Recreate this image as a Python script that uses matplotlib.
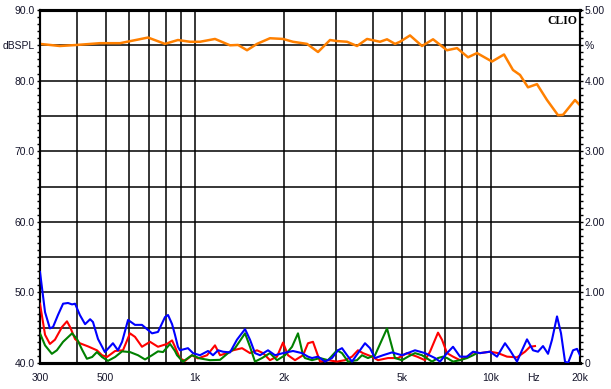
import matplotlib
matplotlib.use("Agg")
import matplotlib.pyplot as plt
from matplotlib.ticker import FixedLocator, NullFormatter

# ---------------- data ----------------
spl_freq = [300, 350, 400, 478, 559, 695, 793, 877, 963, 1041, 1170, 1315, 1400, 1501,
            1622, 1794, 1986, 2146, 2393, 2607, 2862, 3022, 3267, 3531, 3817, 4222,
            4459, 4744, 4932, 5332, 5853, 6378, 7110, 7686, 8371, 8977, 10087, 11076,
            11876, 12544, 13346, 14313, 15474, 16856, 17525, 19236, 20000]
spl_db = [85.2, 84.9, 85.05, 85.3, 85.3, 86.1, 85.2, 85.75, 85.5, 85.5, 85.9, 85.0, 85.05,
          84.3, 85.2, 86.0, 85.9, 85.5, 85.2, 84.05, 85.75, 85.6, 85.5, 84.9, 85.9, 85.5,
          85.85, 85.2, 85.5, 86.4, 84.9, 85.85, 84.3, 84.6, 83.3, 83.9, 82.7, 83.7,
          81.5, 80.8, 79.05, 79.5, 77.25, 75.1, 75.15, 77.25, 76.5]

blue_freq = [300, 312, 324, 332, 345, 359, 373, 385, 394, 409, 426, 443, 453, 471, 497,
             529, 550, 568, 595, 628, 663, 717, 751, 793, 812, 838, 857, 877, 891, 948,
             986, 1041, 1108, 1152, 1198, 1245, 1315, 1388, 1478, 1536, 1597, 1661, 1767,
             1866, 1986, 2146, 2302, 2412, 2488, 2607, 2753, 2907, 3045, 3142, 3267, 3396,
             3613, 3757, 3906, 4061, 4321, 4635, 5010, 5544, 5991, 6476, 6733, 7110, 7450,
             7867, 8307, 8704, 9190, 9934, 10490, 11162, 11605, 12252, 12739, 13244, 13877,
             14427, 15000, 15596, 16089, 16727, 17255, 17801, 18221, 18943, 19543, 20000]
blue_pct = [1.29, 0.72, 0.49, 0.51, 0.68, 0.84, 0.85, 0.83, 0.84, 0.68, 0.55, 0.62, 0.58,
            0.34, 0.155, 0.28, 0.18, 0.30, 0.61, 0.54, 0.54, 0.42, 0.44, 0.65, 0.68, 0.55,
            0.40, 0.23, 0.18, 0.21, 0.14, 0.11, 0.17, 0.11, 0.18, 0.16, 0.15, 0.33, 0.48,
            0.33, 0.14, 0.11, 0.18, 0.11, 0.14, 0.17, 0.14, 0.09, 0.07, 0.09, 0.02, 0.07,
            0.18, 0.21, 0.11, 0.02, 0.18, 0.28, 0.21, 0.07, 0.11, 0.15, 0.11, 0.18, 0.14,
            0.07, 0.02, 0.14, 0.23, 0.09, 0.09, 0.16, 0.14, 0.16, 0.09, 0.28, 0.18, 0.02,
            0.18, 0.335, 0.18, 0.16, 0.24, 0.13, 0.33, 0.66, 0.42, 0.02, 0.0, 0.18, 0.20, 0.11]

red_freq = [300, 312, 324, 337, 356, 370, 379, 394, 409, 436, 467, 486, 505, 538, 572,
            604, 628, 663, 706, 751, 806, 838, 857, 891, 927, 978, 1025, 1100, 1170, 1217,
            1285, 1346, 1444, 1536, 1622, 1700, 1794, 1895, 1986, 2064, 2180, 2320, 2412,
            2507, 2648, 2818, 3022, 3216, 3396, 3557, 3698, 3967, 4156, 4493, 4856, 5209,
            5631, 5991, 6229, 6629, 6838, 7110, 7450, 7867, 8307, 8704, 9190, 9934, 10572,
            11337, 12252, 13040, 13556, 14094]
red_pct = [0.84, 0.40, 0.27, 0.33, 0.51, 0.59, 0.51, 0.34, 0.28, 0.235, 0.18, 0.11, 0.085,
           0.17, 0.18, 0.42, 0.37, 0.23, 0.30, 0.23, 0.27, 0.32, 0.23, 0.065, 0.03, 0.11,
           0.065, 0.11, 0.25, 0.11, 0.14, 0.18, 0.21, 0.14, 0.18, 0.14, 0.04, 0.09, 0.29,
           0.11, 0.04, 0.11, 0.28, 0.30, 0.02, 0.04, 0.02, 0.04, 0.09, 0.18, 0.14, 0.09,
           0.04, 0.07, 0.07, 0.14, 0.09, 0.04, 0.16, 0.43, 0.33, 0.14, 0.09, 0.04, 0.09,
           0.15, 0.14, 0.16, 0.14, 0.09, 0.08, 0.16, 0.23, 0.24]

green_freq = [300, 312, 329, 342, 359, 385, 400, 416, 432, 450, 467, 486, 509, 538, 568,
              604, 643, 679, 717, 751, 781, 825, 857, 871, 912, 978, 1041, 1125, 1217, 1295,
              1367, 1478, 1536, 1597, 1687, 1794, 1895, 2017, 2130, 2231, 2320, 2356, 2488,
              2648, 2818, 3022, 3142, 3292, 3531, 3670, 3845, 4061, 4459, 4744, 5010, 5250,
              5544, 5853, 6326, 6629, 6892, 7110, 7450, 7867, 8307, 8704, 8977]
green_pct = [0.42, 0.25, 0.13, 0.18, 0.30, 0.42, 0.34, 0.19, 0.06, 0.085, 0.155, 0.085, 0.03,
             0.085, 0.165, 0.155, 0.11, 0.05, 0.11, 0.165, 0.155, 0.27, 0.17, 0.11, 0.02,
             0.11, 0.065, 0.04, 0.045, 0.14, 0.21, 0.42, 0.23, 0.02, 0.07, 0.14, 0.04, 0.11,
             0.23, 0.42, 0.11, 0.07, 0.04, 0.07, 0.04, 0.18, 0.14, 0.02, 0.04, 0.11, 0.07,
             0.11, 0.49, 0.07, 0.04, 0.09, 0.14, 0.11, 0.02, 0.07, 0.09, 0.07, 0.02, 0.04,
             0.07, 0.11, 0.14]

x_tick_pos = [300, 500, 1000, 2000, 5000, 10000, 13900, 20000]
x_tick_lab = ["300", "500", "1k", "2k", "5k", "10k", "Hz", "20k"]
x_grid = [400, 500, 600, 700, 800, 900, 1000, 2000, 3000, 4000, 5000, 6000, 7000,
          8000, 9000, 10000]
left_tick_pos = [40, 50, 60, 70, 80, 85, 90]
left_tick_lab = ["40.0", "50.0", "60.0", "70.0", "80.0", "dBSPL", "90.0"]
right_tick_pos = [0, 1, 2, 3, 4, 4.5, 5]
right_tick_lab = ["0", "1.00", "2.00", "3.00", "4.00", "%", "5.00"]

# ---------------- figure ----------------
txt = "#14142a"
font = "Liberation Sans"
fig = plt.figure(figsize=(6.11, 3.89), dpi=100)
ax = fig.add_axes([40 / 611, 26 / 389, 540 / 611, 353 / 389])
ax.set_xscale("log")
ax.set_xlim(300, 20000)
ax.set_ylim(40, 90)

for f in x_grid:
    ax.axvline(f, color="black", lw=1.1, zorder=1)
for y in range(45, 90, 5):
    ax.axhline(y, color="black", lw=1.1, zorder=1)

ax.plot(spl_freq, spl_db, color="#ff8000", lw=1.8, zorder=3)

ax.xaxis.set_major_locator(FixedLocator(x_tick_pos))
ax.set_xticklabels(x_tick_lab)
ax.xaxis.set_minor_locator(FixedLocator([]))
ax.xaxis.set_minor_formatter(NullFormatter())
ax.tick_params(axis="x", which="both", length=0, pad=7, labelsize=7.5, labelcolor=txt)

ax.set_yticks(left_tick_pos)
ax.set_yticklabels(left_tick_lab)
ax.yaxis.set_minor_locator(FixedLocator(list(range(40, 91))))
ax.tick_params(axis="y", which="both", direction="out", length=2.2, width=1,
               pad=1.5, labelsize=7.5, labelcolor=txt)

ax2 = ax.twinx()
ax2.set_ylim(0, 5)
ax2.set_xlim(300, 20000)
ax2.plot(red_freq, red_pct, color="#ff0000", lw=1.5, zorder=3)
ax2.plot(green_freq, green_pct, color="#008000", lw=1.5, zorder=3)
ax2.plot(blue_freq, blue_pct, color="#0000ff", lw=1.5, zorder=4)
ax2.set_yticks(right_tick_pos)
ax2.set_yticklabels(right_tick_lab)
ax2.yaxis.set_minor_locator(FixedLocator([i / 10 for i in range(0, 51)]))
ax2.tick_params(axis="y", which="both", direction="out", length=2.2, width=1,
                pad=1.0, labelsize=7.5, labelcolor=txt)

for a in (ax, ax2):
    for s in ("left", "right"):
        a.spines[s].set_linewidth(1.5)
    for s in ("top", "bottom"):
        a.spines[s].set_linewidth(2.2)
    for lab in a.get_xticklabels() + a.get_yticklabels():
        lab.set_fontfamily(font)

ax2.text(0.995, 0.985, "CLIO", transform=ax2.transAxes, ha="right", va="top",
         fontsize=8.5, fontweight="bold", family="Liberation Serif", color="black", zorder=5)

fig.savefig("out.png", dpi=100)
